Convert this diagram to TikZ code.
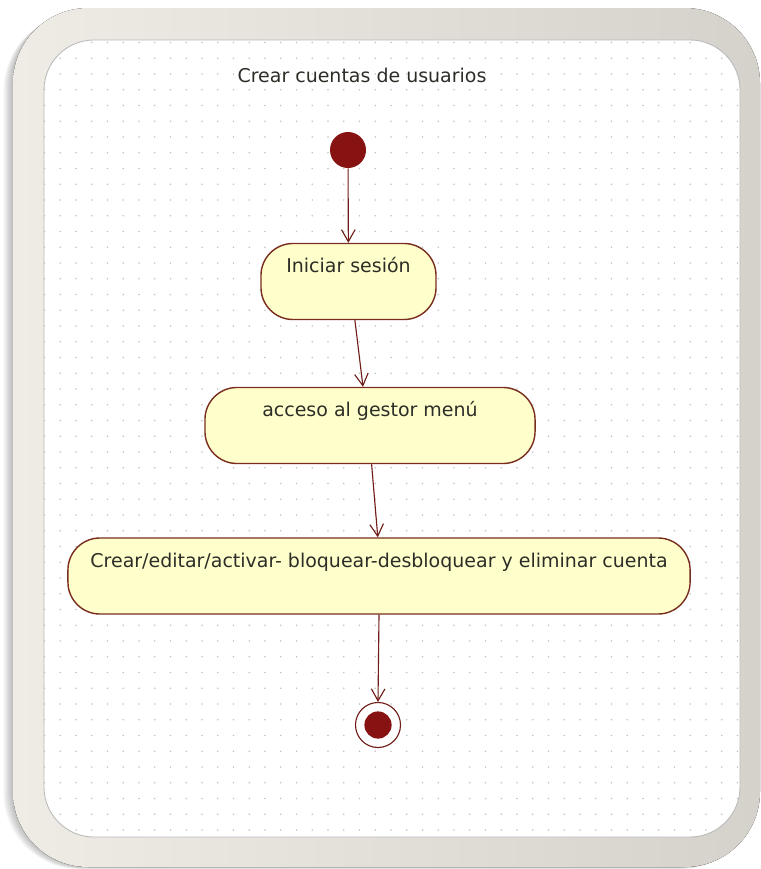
\documentclass[tikz,border=0pt]{standalone}
\usepackage{fontspec}
\setmainfont{DejaVu Sans}
\usetikzlibrary{arrows.meta,positioning}
\definecolor{umlred}{RGB}{135,18,18}
\definecolor{umlline}{RGB}{112,28,24}
\definecolor{umlborder}{RGB}{120,45,30}
\definecolor{actfill}{RGB}{255,255,204}
\definecolor{textgray}{RGB}{45,45,40}
\definecolor{frameleft}{RGB}{238,236,228}
\definecolor{frameright}{RGB}{212,210,203}
\definecolor{griddot}{RGB}{195,195,195}

\tikzset{
  activity/.style={draw=umlborder, fill=actfill, line width=1pt, rounded corners=0.8cm,
    inner xsep=0pt, inner ysep=0pt, minimum height=1.9cm, text height=0.725cm, text depth=1.175cm,
    font=\fontsize{13.5pt}{16pt}\selectfont, text=textgray},
  flow/.style={draw=umlline, line width=0.8pt, -{Straight Barb[length=3mm,width=3.4mm]}},
  startnode/.style={circle, fill=umlred, minimum size=0.9cm, inner sep=0pt},
  endring/.style={circle, draw=umlline, line width=0.8pt, fill=white, minimum size=1.125cm, inner sep=0pt},
  enddot/.style={circle, fill=umlred, minimum size=0.68cm, inner sep=0pt},
}

\begin{document}
\begin{tikzpicture}[x=0.025cm, y=-0.025cm]
            \useasboundingbox (0,0) rectangle (761,869);

            % Frame and shadow
            \foreach \i in {1,...,8}
              \fill[black, opacity=0.035, rounded corners=1.9cm] ({13-1.2*\i},{8+0.8*\i}) rectangle ({757},{867+0.25*\i});
            \fill[left color=frameleft, right color=frameright, rounded corners=1.875cm] (13,8) rectangle (760,867);
            \fill[white, rounded corners=1.25cm] (44,40) rectangle (740,837);
            \draw[gray!55, line width=0.6pt, rounded corners=1.25cm] (44,40) rectangle (740,837);

            % Dotted grid
            \begin{scope}
              \clip[rounded corners=1.25cm] (44,40) rectangle (740,837);
              \foreach \i in {0,...,44}
                \foreach \j in {0,...,51}
                  \fill[griddot] ({44.5+15.75*\i},{42.5+15.75*\j}) circle (0.55pt);
            \end{scope}

            % Title
            \node[font=\fontsize{13.5pt}{16pt}\selectfont, text=textgray] (title) at (362,75) {Crear cuentas de usuarios};

            % Activities
            \node[startnode] (start) at (348,150) {};
            \node[activity, minimum width=4.375cm] (login) at (348.5,281.5) {Iniciar sesión};
            \node[activity, minimum width=8.25cm] (menu) at (370,425.5) {acceso al gestor menú};
            \node[activity, minimum width=15.55cm] (cuenta) at (379,576) {Crear/editar/activar- bloquear-desbloquear y eliminar cuenta};
            \node[endring] (fin) at (378,725) {};
            \node[enddot] (findot) at (fin) {};

            % Flows
            \draw[flow] (start) -- (login);
            \draw[flow] ([xshift=0.16cm]login.south) -- ([xshift=-0.175cm]menu.north);
            \draw[flow] ([xshift=0.04cm]menu.south) -- ([xshift=-0.03cm]cuenta.north);
            \draw[flow] (cuenta.south) -- (fin.north);
\end{tikzpicture}
\end{document}
